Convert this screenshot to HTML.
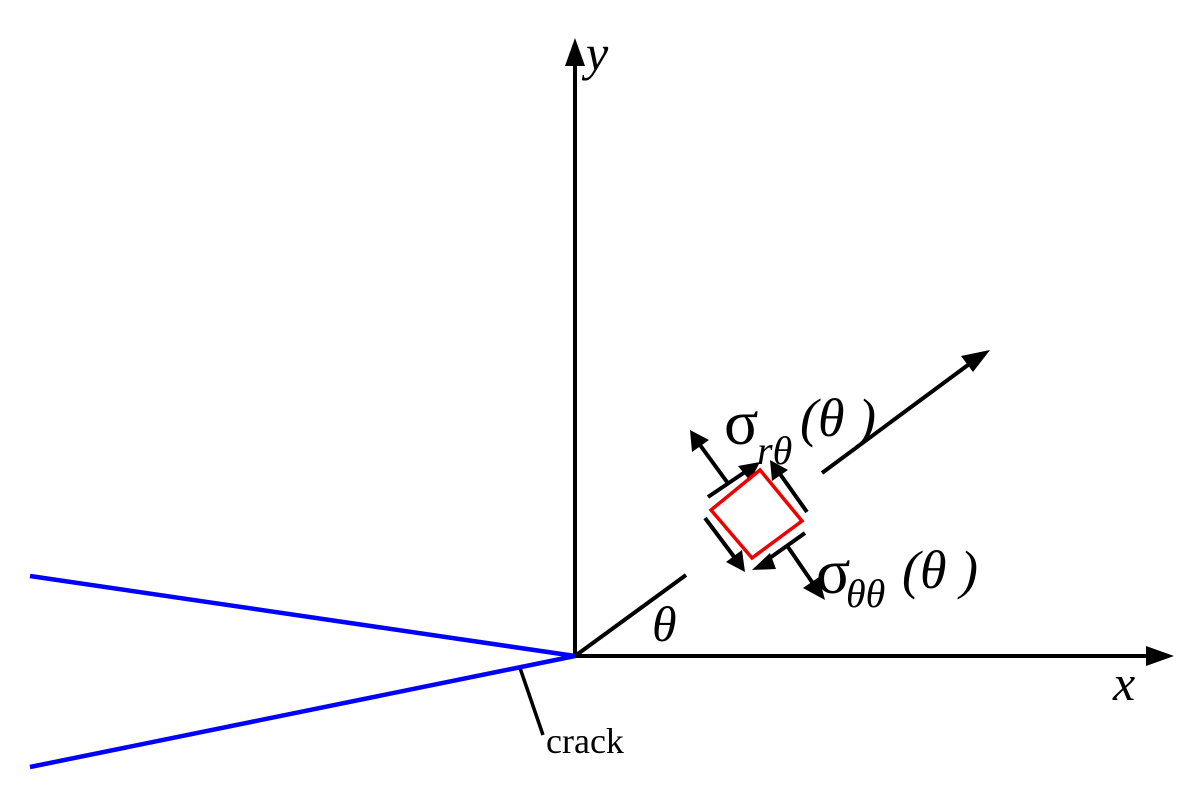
<!DOCTYPE html>
<html><head><style>body{margin:0;background:#fff}svg{display:block}text{font-family:"Liberation Serif","DejaVu Serif",serif}</style></head><body>
<svg width="1192" height="799" viewBox="0 0 1192 799" xmlns="http://www.w3.org/2000/svg">
<g stroke="#000" stroke-width="4" fill="none">
<line x1="575" y1="658" x2="575" y2="55"/>
<line x1="573" y1="656" x2="1155" y2="656"/>
<line x1="575" y1="656" x2="686" y2="575"/>
<line x1="520" y1="668" x2="543" y2="735" stroke-width="3.5"/>
<line x1="822" y1="473" x2="972" y2="362"/>
<line x1="727" y1="482" x2="700" y2="445"/>
<line x1="708" y1="497" x2="745" y2="472"/>
<line x1="807" y1="512" x2="780" y2="474"/>
<line x1="705" y1="518" x2="735" y2="558"/>
<line x1="805" y1="533" x2="767" y2="560"/>
<line x1="788" y1="547" x2="812" y2="582"/>
</g>
<g fill="#000">
<polygon points="575,38 565,66 585,66"/>
<polygon points="1174,656 1146,646 1146,666"/>
<polygon points="990,350 961,356 973,372"/>
<polygon points="690,430 692,452 709,440"/>
<polygon points="760,462 738,466 750,481"/>
<polygon points="770,460 772,481 788,470"/>
<polygon points="745,572 726,562 742,550"/>
<polygon points="752,570 770,553 776,569"/>
<polygon points="825,600 803,588 819,577"/>
</g>
<polygon points="760,470 802,521 752,558 711,510" fill="none" stroke="#e00" stroke-width="3.5"/>
<g stroke="#0000ff" stroke-width="4.5">
<line x1="30" y1="576" x2="575" y2="656"/>
<line x1="30" y1="767" x2="575" y2="656"/>
</g>
<g fill="#000">
<text x="586" y="70" font-size="50" font-style="italic">y</text>
<text x="1113" y="700" font-size="50" font-style="italic">x</text>
<text x="652" y="641" font-size="50" font-style="italic">θ</text>
<text x="546" y="753" font-size="36">crack</text>
<text x="724" y="444" font-size="64">σ</text>
<text x="757" y="464" font-size="40" font-style="italic">rθ</text>
<text x="800" y="436" font-size="54" font-style="italic">(θ )</text>
<text x="816" y="593" font-size="64">σ</text>
<text x="846" y="607" font-size="40" font-style="italic">θθ</text>
<text x="902" y="588" font-size="54" font-style="italic">(θ )</text>
</g>
</svg>
</body></html>
